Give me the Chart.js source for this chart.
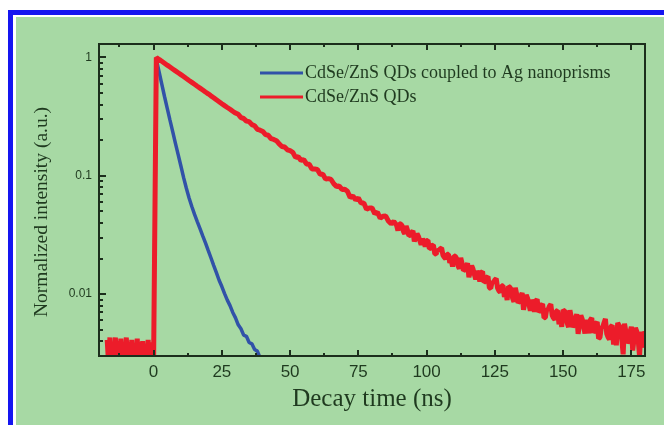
<!DOCTYPE html>
<html>
<head>
<meta charset="utf-8">
<script src="https://cdn.jsdelivr.net/npm/chart.js@4"></script>
<style>
  html, body { margin: 0; padding: 0; background: #ffffff; overflow: hidden; }
  #chart { display: block; }
</style>
</head>
<body>
<canvas id="chart" width="664" height="425"></canvas>
<script>
// Series labels
const seriesLabels = ["CdSe/ZnS QDs coupled to Ag nanoprisms", "CdSe/ZnS QDs"];
const xAxisTitle = "Decay time (ns)";
const yAxisTitle = "Normalized intensity (a.u.)";

// Blue trace: QDs coupled to Ag nanoprisms (time in ns, normalized intensity)
const blueTime = [
  0, 1, 2, 3, 4, 5, 6, 7, 8, 9, 10, 11, 12, 13, 14, 15, 16, 17, 18, 19, 20,
  21, 22, 23, 24, 25, 26, 27, 28, 29, 30, 31, 32, 33, 34, 35, 36, 37, 38, 39, 40, 41
];
const blueIntensity = [
  0.0028, 0.96, 0.759, 0.596, 0.468, 0.372, 0.295, 0.236, 0.188, 0.151, 0.121,
  0.0965, 0.0785, 0.0650, 0.0550, 0.0472, 0.0410, 0.0358, 0.0311, 0.0271, 0.0234,
  0.0203, 0.0175, 0.0152, 0.0131, 0.0116, 0.0101, 0.0089, 0.0080, 0.0070, 0.0063,
  0.0055, 0.0051, 0.0045, 0.0044, 0.0039, 0.0038, 0.0034, 0.0033, 0.0029, 0.0028, 0.0025
];

// Red trace: bare QDs (0.5 ns bins before the pulse and in the noisy tail)
const redTime = [
  -17, -16.5, -16, -15.5, -15, -14.5, -14, -13.5, -13, -12.5, -12, -11.5,
  -11, -10.5, -10, -9.5, -9, -8.5, -8, -7.5, -7, -6.5, -6, -5.5,
  -5, -4.5, -4, -3.5, -3, -2.5, -2, -1.5, -1, -0.5, 0,
  1, 2, 3, 4, 5, 6, 7, 8, 9, 10, 11, 12, 13, 14, 15, 16, 17, 18, 19, 20,
  21, 22, 23, 24, 25, 26, 27, 28, 29, 30, 31, 32, 33, 34, 35, 36, 37, 38, 39, 40,
  41, 42, 43, 44, 45, 46, 47, 48, 49, 50, 51, 52, 53, 54, 55, 56, 57, 58, 59, 60,
  61, 62, 63, 64, 65, 66, 67, 68, 69, 70, 71, 72, 73, 74, 75, 76, 77, 78, 79, 80,
  81, 82, 83, 84, 85, 86, 87, 88,
  89, 89.5, 90, 90.5, 91, 91.5, 92, 92.5, 93, 93.5, 94, 94.5, 95, 95.5, 96, 96.5, 97, 97.5, 98, 98.5,
  99, 99.5, 100, 100.5, 101, 101.5, 102, 102.5, 103, 103.5, 104, 104.5, 105, 105.5, 106, 106.5, 107, 107.5, 108, 108.5,
  109, 109.5, 110, 110.5, 111, 111.5, 112, 112.5, 113, 113.5, 114, 114.5, 115, 115.5, 116, 116.5, 117, 117.5, 118, 118.5,
  119, 119.5, 120, 120.5, 121, 121.5, 122, 122.5, 123, 123.5, 124, 124.5, 125, 125.5, 126, 126.5, 127, 127.5, 128, 128.5,
  129, 129.5, 130, 130.5, 131, 131.5, 132, 132.5, 133, 133.5, 134, 134.5, 135, 135.5, 136, 136.5, 137, 137.5, 138, 138.5,
  139, 139.5, 140, 140.5, 141, 141.5, 142, 142.5, 143, 143.5, 144, 144.5, 145, 145.5, 146, 146.5, 147, 147.5, 148, 148.5,
  149, 149.5, 150, 150.5, 151, 151.5, 152, 152.5, 153, 153.5, 154, 154.5, 155, 155.5, 156, 156.5, 157, 157.5, 158, 158.5,
  159, 159.5, 160, 160.5, 161, 161.5, 162, 162.5, 163, 163.5, 164, 164.5, 165, 165.5, 166, 166.5, 167, 167.5, 168, 168.5,
  169, 169.5, 170, 170.5, 171, 171.5, 172, 172.5, 173, 173.5, 174, 174.5, 175, 175.5, 176, 176.5, 177, 177.5, 178, 178.5,
  179, 179.5, 180
];
const redIntensity = [
  0.0041, 0.0026, 0.0043, 0.0025, 0.0039, 0.0026, 0.0043, 0.0025, 0.0040, 0.0027, 0.0042, 0.0025,
  0.0038, 0.0026, 0.0043, 0.0025, 0.0039, 0.0026, 0.0041, 0.0025, 0.0038, 0.0026, 0.0042, 0.0025,
  0.0039, 0.0026, 0.0040, 0.0025, 0.0038, 0.0026, 0.0041, 0.0025, 0.0039, 0.0026, 0.0027,
  1.000, 0.963, 0.928, 0.894, 0.861, 0.830, 0.800, 0.771, 0.743, 0.716,
  0.690, 0.664, 0.639, 0.616, 0.593, 0.571, 0.551, 0.531, 0.511, 0.493,
  0.474, 0.457, 0.439, 0.423, 0.407, 0.392, 0.378, 0.365, 0.351, 0.339,
  0.331, 0.310, 0.305, 0.290, 0.287, 0.271, 0.265, 0.247, 0.243, 0.237,
  0.223, 0.220, 0.206, 0.203, 0.198, 0.186, 0.177, 0.175, 0.166, 0.163,
  0.158, 0.143, 0.145, 0.135, 0.137, 0.126, 0.125, 0.114, 0.114, 0.113,
  0.1032, 0.1032, 0.0938, 0.0947, 0.0931, 0.0857, 0.0811, 0.0820, 0.0767, 0.0771,
  0.0740, 0.0656, 0.0676, 0.0625, 0.0650, 0.0588, 0.0590, 0.0522, 0.0535, 0.0535,
  0.0479, 0.0493, 0.0438, 0.0456, 0.0458, 0.0415, 0.0393, 0.0411,
  0.0382, 0.0344, 0.0394, 0.0392, 0.0379, 0.0340, 0.0323, 0.0377, 0.0346, 0.0312,
  0.0314, 0.0331, 0.0342, 0.0279, 0.0300, 0.0324, 0.0308, 0.0284, 0.0262, 0.0294,
  0.0277, 0.0252, 0.0283, 0.0285, 0.0243, 0.0245, 0.0258, 0.0260, 0.0219, 0.0218,
  0.0237, 0.0234, 0.0242, 0.0245, 0.0213, 0.0205, 0.0199, 0.0217, 0.0217, 0.0184,
  0.0197, 0.0171, 0.0210, 0.0209, 0.0200, 0.0174, 0.0164, 0.0203, 0.0181, 0.0158,
  0.0161, 0.0173, 0.0182, 0.0139, 0.0155, 0.0174, 0.0163, 0.0147, 0.0133, 0.0157,
  0.0146, 0.0128, 0.0152, 0.0155, 0.0126, 0.0128, 0.0138, 0.0141, 0.0113, 0.0112,
  0.0127, 0.0125, 0.0132, 0.0135, 0.01123, 0.01068, 0.01036, 0.01177, 0.01177, 0.00946,
  0.01053, 0.00890, 0.01159, 0.01142, 0.01098, 0.00926, 0.00862, 0.01131, 0.00996, 0.00844,
  0.00871, 0.00962, 0.01024, 0.00739, 0.00853, 0.00986, 0.00921, 0.00818, 0.00723, 0.00896,
  0.00827, 0.00709, 0.00877, 0.00905, 0.00706, 0.00728, 0.00803, 0.00827, 0.00630, 0.00633,
  0.00746, 0.00740, 0.00793, 0.00819, 0.00662, 0.00628, 0.00608, 0.00718, 0.00725, 0.00557,
  0.00641, 0.00529, 0.00734, 0.00720, 0.00694, 0.00570, 0.00526, 0.00732, 0.00637, 0.00527,
  0.00550, 0.00623, 0.00676, 0.00462, 0.00552, 0.00660, 0.00615, 0.00538, 0.00465, 0.00606,
  0.00556, 0.00466, 0.00605, 0.00630, 0.00473, 0.00494, 0.00560, 0.00581, 0.00422, 0.00430,
  0.00526, 0.00525, 0.00573, 0.00618, 0.00461, 0.00432, 0.00413, 0.00532, 0.00544, 0.00375,
  0.00465, 0.00370, 0.00571, 0.00544, 0.00524, 0.00416, 0.00310, 0.00564, 0.00482, 0.00385,
  0.00408, 0.00477, 0.00530, 0.00334, 0.00419, 0.00520, 0.00482, 0.00411, 0.00300, 0.00479,
  0.00435, 0.00353, 0.00487
];

// Axis ticks
const xTickValues = [0, 25, 50, 75, 100, 125, 150, 175];
const yTickValues = [0.01, 0.1, 1];
const yTickLabels = ["0.01", "0.1", "1"];

const axisColor = "#1c2e1c";
const textColor = "#1f3a1f";
const blueColor = "#3152a8";
const redColor = "#ec1c2a";
const panelColor = "#a7d9a4";
const frameColor = "#1515f0";
const serifFont = "'Liberation Serif', 'Times New Roman', serif";
const sansFont = "'Liberation Sans', Arial, sans-serif";

function toPoints(times, values) {
  return times.map((t, i) => ({ x: t, y: values[i] }));
}

// White page, blue frame and green panel behind the chart
const panelBackground = {
  id: "panelBackground",
  beforeDraw(chart) {
    const { ctx, width, height } = chart;
    ctx.save();
    ctx.fillStyle = "#ffffff";
    ctx.fillRect(0, 0, width, height);
    ctx.fillStyle = frameColor;
    ctx.fillRect(8, 10, width - 8, 5);
    ctx.fillRect(8, 10, 5, height - 10);
    ctx.fillStyle = panelColor;
    ctx.fillRect(16, 17, width - 16, height - 17);
    ctx.restore();
  },
};

// Box, inward tick marks, y title and the legend
const axisFrame = {
  id: "axisFrame",
  afterDatasetsDraw(chart) {
    const { ctx, chartArea: a, scales } = chart;
    const x = scales.x;
    const y = scales.y;
    ctx.save();
    ctx.strokeStyle = axisColor;
    ctx.lineWidth = 2;
    ctx.strokeRect(a.left, a.top, a.right - a.left, a.bottom - a.top);

    ctx.beginPath();
    // x ticks, bottom and top
    for (const v of xTickValues) {
      const px = Math.round(x.getPixelForValue(v));
      ctx.moveTo(px, a.bottom); ctx.lineTo(px, a.bottom - 6);
      ctx.moveTo(px, a.top); ctx.lineTo(px, a.top + 6);
      const m = v - 12.5;
      if (m > x.min) {
        const pm = Math.round(x.getPixelForValue(m));
        ctx.moveTo(pm, a.bottom); ctx.lineTo(pm, a.bottom - 3);
        ctx.moveTo(pm, a.top); ctx.lineTo(pm, a.top + 3);
      }
    }
    // y ticks (log decades + minor)
    for (const v of yTickValues) {
      const py = Math.round(y.getPixelForValue(v));
      ctx.moveTo(a.left, py); ctx.lineTo(a.left + 7, py);
    }
    for (let k = -3; k <= 0; k++) {
      for (let m = 2; m <= 9; m++) {
        const v = m * Math.pow(10, k);
        if (v < y.min || v > y.max) continue;
        const py = Math.round(y.getPixelForValue(v));
        ctx.moveTo(a.left, py); ctx.lineTo(a.left + 4, py);
      }
    }
    ctx.stroke();

    // y axis title (sits a little below the axis centre in the original)
    ctx.fillStyle = textColor;
    ctx.font = "19.5px " + serifFont;
    ctx.textAlign = "center";
    ctx.textBaseline = "middle";
    ctx.translate(42, 212);
    ctx.rotate(-Math.PI / 2);
    ctx.fillText(yAxisTitle, 0, 0);
    ctx.setTransform(1, 0, 0, 1, 0, 0);

    // Legend
    ctx.font = "18px " + serifFont;
    ctx.textAlign = "left";
    chart.data.datasets.forEach((ds, i) => {
      const ly = 73 + i * 24;
      ctx.strokeStyle = ds.borderColor;
      ctx.lineWidth = 3;
      ctx.beginPath();
      ctx.moveTo(260, ly); ctx.lineTo(303, ly);
      ctx.stroke();
      ctx.fillText(ds.label, 305, ly);
    });
    ctx.restore();
  },
};

document.addEventListener("DOMContentLoaded", () => {
  const ctx = document.getElementById("chart").getContext("2d");
  new Chart(ctx, {
    type: "line",
    data: {
      datasets: [
        {
          label: seriesLabels[0],
          data: toPoints(blueTime, blueIntensity),
          borderColor: blueColor,
          borderWidth: 3.5,
          borderJoinStyle: "bevel",
          pointRadius: 0,
          tension: 0,
          clip: 0,
          order: 1,
        },
        {
          label: seriesLabels[1],
          data: toPoints(redTime, redIntensity),
          borderColor: redColor,
          borderWidth: 5,
          borderJoinStyle: "bevel",
          pointRadius: 0,
          tension: 0,
          clip: 0,
          order: 0,
        },
      ],
    },
    options: {
      responsive: false,
      animation: false,
      layout: { padding: { left: 0, top: 44, right: 19, bottom: 0 } },
      plugins: {
        legend: { display: false },
        tooltip: { enabled: false },
      },
      scales: {
        x: {
          type: "linear",
          min: -20,
          max: 180,
          afterBuildTicks: (s) => { s.ticks = xTickValues.map((v) => ({ value: v })); },
          afterFit: (s) => { s.height = 69; },
          grid: { display: false, drawTicks: false },
          border: { display: false },
          ticks: {
            padding: 6,
            color: textColor,
            font: { family: sansFont, size: 17 },
            maxRotation: 0,
          },
          title: {
            display: true,
            text: xAxisTitle,
            color: textColor,
            font: { family: serifFont, size: 25 },
            padding: { top: 0, bottom: 11 },
          },
        },
        y: {
          type: "logarithmic",
          min: 0.003,
          max: 1.3,
          afterBuildTicks: (s) => { s.ticks = yTickValues.map((v) => ({ value: v })); },
          afterFit: (s) => { s.width = 99; },
          grid: { display: false, drawTicks: false },
          border: { display: false },
          ticks: {
            padding: 7,
            color: textColor,
            font: { family: sansFont, size: 12 },
            callback: (v) => yTickLabels[yTickValues.indexOf(v)] || "",
          },
        },
      },
    },
    plugins: [panelBackground, axisFrame],
  });
});
</script>
</body>
</html>
